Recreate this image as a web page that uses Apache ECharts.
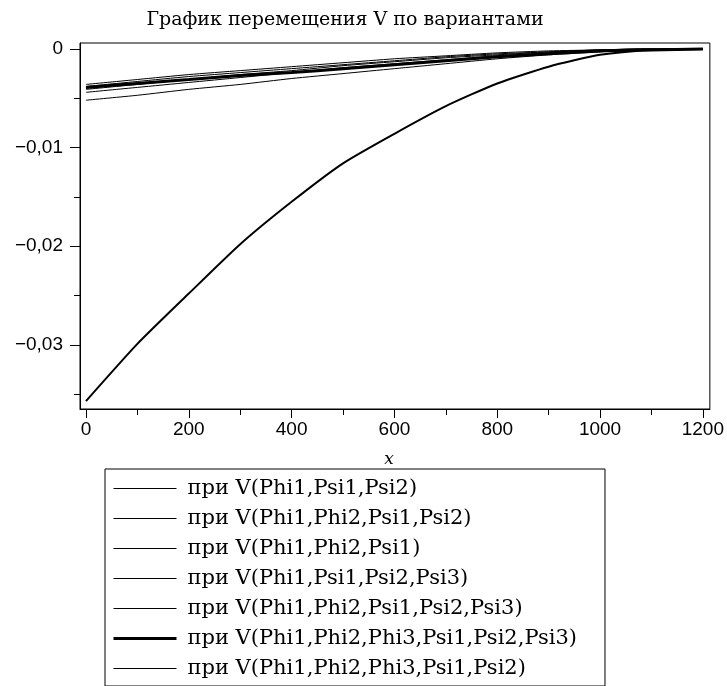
<!DOCTYPE html>
<html><head><meta charset="utf-8">
<script src="https://cdn.jsdelivr.net/npm/echarts@6/dist/echarts.min.js"></script>
<style>html,body{margin:0;padding:0;background:#fff}#c{width:727px;height:686px}</style>
</head><body><div id="c"></div>
<script>
const titleText = 'График перемещения V по вариантами';
const xValues = [0,100,200,300,400,500,600,700,800,900,1000,1100,1200];
const seriesNames = [
  'при V(Phi1,Psi1,Psi2)',
  'при V(Phi1,Phi2,Psi1,Psi2)',
  'при V(Phi1,Phi2,Psi1)',
  'при V(Phi1,Psi1,Psi2,Psi3)',
  'при V(Phi1,Phi2,Psi1,Psi2,Psi3)',
  'при V(Phi1,Phi2,Phi3,Psi1,Psi2,Psi3)',
  'при V(Phi1,Phi2,Phi3,Psi1,Psi2)'
];
const v1 = [-0.0036,-0.0031,-0.0026,-0.0022,-0.0018,-0.0014,-0.0010,-0.0007,-0.0004,-0.0002,-0.0001,0,0];
const v2 = [-0.0038,-0.0033,-0.0028,-0.0024,-0.0020,-0.0016,-0.0012,-0.0008,-0.0005,-0.0003,-0.0001,0,0];
const v3 = [-0.0041,-0.0036,-0.0031,-0.0026,-0.0022,-0.0017,-0.0013,-0.0009,-0.0006,-0.0003,-0.0001,0,0];
const v4 = [-0.0044,-0.0039,-0.0034,-0.0029,-0.0024,-0.0019,-0.0015,-0.0011,-0.0007,-0.0004,-0.0002,-0.0001,0];
const v5 = [-0.0052,-0.0047,-0.0041,-0.0036,-0.0030,-0.0025,-0.0020,-0.0015,-0.0010,-0.0006,-0.0003,-0.0001,0];
const v6 = [-0.0039,-0.0035,-0.0031,-0.0027,-0.0024,-0.0020,-0.0016,-0.0012,-0.0008,-0.0005,-0.0002,-0.0001,0];
const v7 = [-0.0357,-0.0299,-0.0248,-0.0198,-0.0155,-0.0116,-0.0086,-0.0058,-0.0035,-0.0018,-0.0006,-0.0001,0];
const xMajorTicks = [0,200,400,600,800,1000,1200];
const xMinorTicks = [100,300,500,700,900,1100];
const yMajorTicks = [0,-0.01,-0.02,-0.03];
const yMinorTicks = [-0.005,-0.015,-0.025,-0.035];

const allValues = [v1,v2,v3,v4,v5,v6,v7];
const widths = [1,1,1,1,1,3,2];
const legendWidths = [1,1,1,1,1,3,1];
const fontSerif = '"DejaVu Serif", serif';
const fontSans = '"Liberation Sans", Arial, sans-serif';

const chart = echarts.init(document.getElementById('c'), null, {renderer:'canvas'});
const xCommon = {type:'value', min:-11.6, max:1213.6, position:'bottom', splitLine:{show:false}};
const yCommon = {type:'value', min:-0.0365, max:0.0006, position:'left', splitLine:{show:false}};
chart.setOption({
  animation:false,
  backgroundColor:'#fff',
  title:{text:titleText, left:340, top:6, textAlign:'center',
    textStyle:{fontFamily:fontSerif, fontSize:19, fontWeight:'normal', color:'#000'}},
  grid:{left:80, top:43, right:15, bottom:277, show:true, borderColor:'#000', borderWidth:1},
  legend:{
    orient:'vertical', left:105, top:469,
    backgroundColor:'#fff', borderColor:'#000', borderWidth:1,
    padding:[8,28,6,7], itemGap:7, itemWidth:63, itemHeight:14,
    itemStyle:{color:'rgba(0,0,0,0)', borderWidth:0, opacity:0},
    textStyle:{fontFamily:fontSerif, fontSize:21, color:'#000', lineHeight:23, padding:[0,0,0,6]},
    data: seriesNames.map((n,i)=>({name:n, lineStyle:{width:legendWidths[i], color:'#000'}}))
  },
  xAxis:[
    Object.assign({}, xCommon, {
      name:'x', nameLocation:'middle', nameGap:42,
      nameTextStyle:{fontFamily:fontSerif, fontStyle:'italic', fontSize:17, color:'#000', padding:[0,12,0,0]},
      axisLine:{show:true, onZero:false, lineStyle:{color:'#000', width:1}},
      axisTick:{show:true, length:9, customValues:xMajorTicks, lineStyle:{color:'#000'}},
      axisLabel:{customValues:xMajorTicks, margin:11, fontFamily:fontSans, fontSize:19, color:'#000',
        formatter:v=>String(v)}
    }),
    Object.assign({}, xCommon, {
      axisLine:{show:false, onZero:false},
      axisTick:{show:true, length:6, customValues:xMinorTicks, lineStyle:{color:'#000'}},
      axisLabel:{show:false}
    })
  ],
  yAxis:[
    Object.assign({}, yCommon, {
      axisLine:{show:true, onZero:false, lineStyle:{color:'#000', width:1}},
      axisTick:{show:true, length:10, customValues:yMajorTicks, lineStyle:{color:'#000'}},
      axisLabel:{customValues:yMajorTicks, margin:17, fontFamily:fontSans, fontSize:19, color:'#000',
        formatter:v=> Math.abs(v)<1e-9 ? '0' : '\u2212' + Math.abs(v).toFixed(2).replace('.', ',')}
    }),
    Object.assign({}, yCommon, {
      axisLine:{show:false, onZero:false},
      axisTick:{show:true, length:6, customValues:yMinorTicks, lineStyle:{color:'#000'}},
      axisLabel:{show:false}
    })
  ],
  series: seriesNames.map((n,i)=>({
    name:n, type:'line', xAxisIndex:0, yAxisIndex:0, symbol:'none', smooth:0.2,
    lineStyle:{color:'#000', width:widths[i]}, itemStyle:{color:'#000'},
    z: i===5 ? 3 : 2,
    data: xValues.map((x,k)=>[x, allValues[i][k]])
  }))
});
</script></body></html>
